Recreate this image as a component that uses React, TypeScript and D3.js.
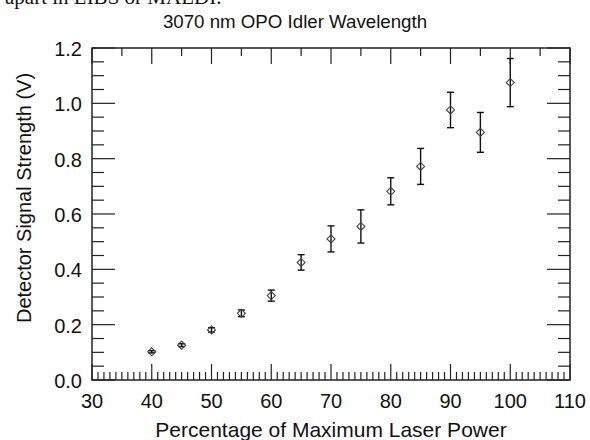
import React from "react";
import * as d3 from "d3";

const powers = [40, 45, 50, 55, 60, 65, 70, 75, 80, 85, 90, 95, 100];
const signal = [0.102, 0.126, 0.181, 0.241, 0.305, 0.425, 0.51, 0.555, 0.682, 0.772, 0.976, 0.895, 1.075];
const errors = [0.004, 0.005, 0.008, 0.012, 0.02, 0.028, 0.047, 0.06, 0.049, 0.065, 0.064, 0.072, 0.087];
const xTicks = [30, 40, 50, 60, 70, 80, 90, 100, 110];
const yTicks = [0.0, 0.2, 0.4, 0.6, 0.8, 1.0, 1.2];

const W = 590, H = 440;
const L = 92, R = 570, T = 48, B = 380;

export default function App() {
  const x = d3.scaleLinear().domain([30, 110]).range([L, R]);
  const y = d3.scaleLinear().domain([0, 1.2]).range([B, T]);
  const ax = "#222";
  const bottomMinor = d3.range(30, 111, 1);
  const topMinor = d3.range(30, 111, 5);
  const yMinor = d3.range(0, 1.2001, 0.05);
  const font = "'Liberation Sans', Arial, Helvetica, sans-serif";
  return (
    <svg width={W} height={H} style={{ position: "fixed", left: 0, top: 0, background: "#fff" }}>
      <text x={5} y={4} fontFamily="'Liberation Serif', 'Times New Roman', serif" fontSize={21} fill="#111">apart in LIBS or MALDI.</text>
      <text x={295} y={28} textAnchor="middle" fontFamily={font} fontSize={18.7} fill="#111">3070 nm OPO Idler Wavelength</text>
      {bottomMinor.map((v) => (
        <line key={"bm" + v} x1={x(v)} x2={x(v)} y1={B} y2={B - (v % 10 === 0 ? 16 : 8)} stroke={ax} strokeWidth={1.2} />
      ))}
      {topMinor.map((v) => (
        <line key={"tm" + v} x1={x(v)} x2={x(v)} y1={T} y2={T + (v % 10 === 0 ? 16 : 8)} stroke={ax} strokeWidth={1.2} />
      ))}
      {yMinor.map((v, i) => {
        const major = i % 4 === 0;
        const len = major ? 23 : 12;
        return (
          <g key={"ym" + i}>
            <line x1={L} x2={L + len} y1={y(v)} y2={y(v)} stroke={ax} strokeWidth={1.2} />
            <line x1={R} x2={R - len} y1={y(v)} y2={y(v)} stroke={ax} strokeWidth={1.2} />
          </g>
        );
      })}
      <rect x={L} y={T} width={R - L} height={B - T} fill="none" stroke={ax} strokeWidth={1.5} />
      {xTicks.map((v) => (
        <text key={"xl" + v} x={x(v)} y={408} textAnchor="middle" fontFamily={font} fontSize={20} fill="#111">{v}</text>
      ))}
      {yTicks.map((v) => (
        <text key={"yl" + v} x={82} y={y(v) + 8} textAnchor="end" fontFamily={font} fontSize={20} fill="#111">{v.toFixed(1)}</text>
      ))}
      <text x={(L + R) / 2} y={437} textAnchor="middle" fontFamily={font} fontSize={21} fill="#111">Percentage of Maximum Laser Power</text>
      <text transform={`translate(31,198) rotate(-90)`} textAnchor="middle" fontFamily={font} fontSize={20} fill="#111">Detector Signal Strength (V)</text>
      {powers.map((p, i) => {
        const cx = x(p), cy = y(signal[i]);
        const y1 = y(signal[i] + errors[i]), y2 = y(signal[i] - errors[i]);
        const cw = 3.5, dw = 4, dh = 4;
        return (
          <g key={"pt" + p}>
            <line x1={cx} x2={cx} y1={y1} y2={y2} stroke="#111" strokeWidth={1.4} />
            <line x1={cx - cw} x2={cx + cw} y1={y1} y2={y1} stroke="#111" strokeWidth={1.4} />
            <line x1={cx - cw} x2={cx + cw} y1={y2} y2={y2} stroke="#111" strokeWidth={1.4} />
            <path d={`M${cx - dw},${cy} L${cx},${cy - dh} L${cx + dw},${cy} L${cx},${cy + dh} Z`} fill="none" stroke="#444" strokeWidth={1.1} />
          </g>
        );
      })}
    </svg>
  );
}
